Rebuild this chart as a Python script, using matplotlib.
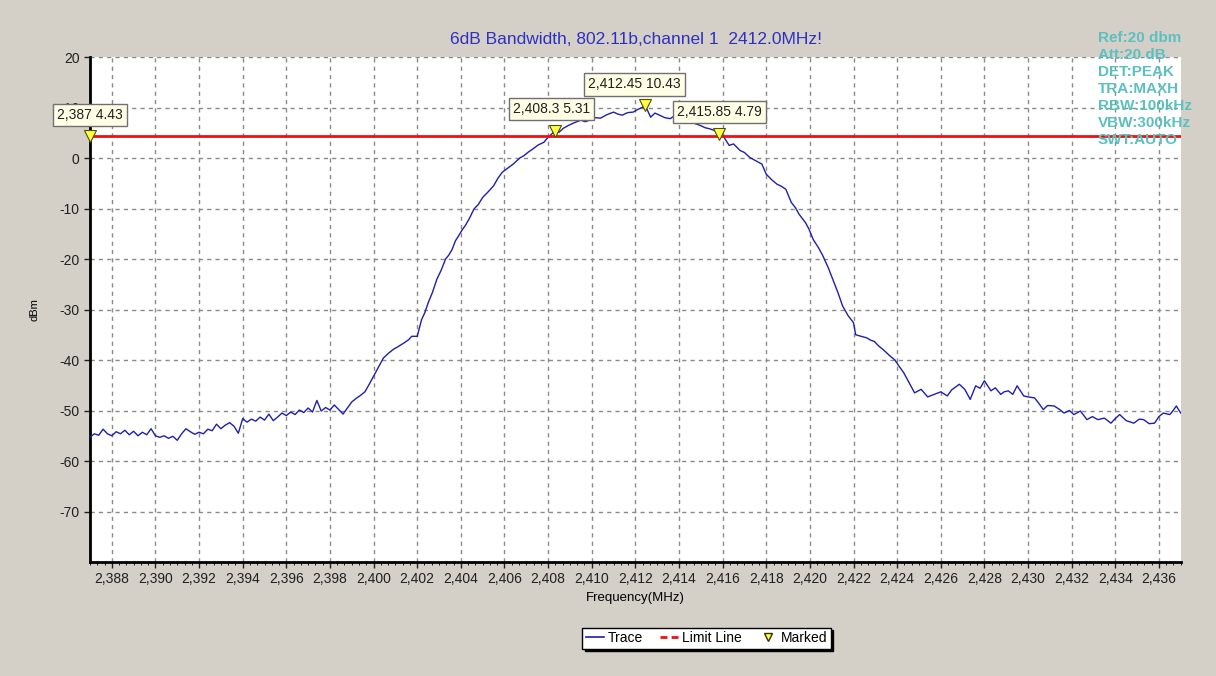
import matplotlib
matplotlib.use("Agg")
import matplotlib.pyplot as plt
from matplotlib.lines import Line2D
from matplotlib.ticker import MultipleLocator, FuncFormatter

plt.rcParams['font.family'] = ['Liberation Sans', 'DejaVu Sans']
plt.rcParams['axes.unicode_minus'] = False

# trace (MHz, dBm)
trace_freq = [
    2387.0, 2387.2, 2387.4, 2387.6, 2387.8, 2388.0, 2388.2, 2388.4, 2388.6, 2388.8,
    2389.0, 2389.2, 2389.4, 2389.6, 2389.8, 2390.0, 2390.2, 2390.4, 2390.6, 2390.8,
    2391.0, 2391.2, 2391.4, 2391.6, 2391.8, 2392.0, 2392.2, 2392.4, 2392.6, 2392.8,
    2393.0, 2393.2, 2393.4, 2393.6, 2393.8, 2394.0, 2394.2, 2394.4, 2394.6, 2394.8,
    2395.0, 2395.2, 2395.4, 2395.6, 2395.8, 2396.0, 2396.2, 2396.4, 2396.6, 2396.8,
    2397.0, 2397.2, 2397.4, 2397.6, 2397.8, 2398.0, 2398.2, 2398.4, 2398.6, 2398.8,
    2399.0, 2399.2, 2399.4, 2399.6, 2399.8, 2400.0, 2400.2, 2400.45, 2400.7, 2400.9,
    2401.1, 2401.4, 2401.6, 2401.75, 2402.0, 2402.2, 2402.35, 2402.5, 2402.7, 2402.9,
    2403.1, 2403.3, 2403.45, 2403.6, 2403.75, 2403.9, 2404.05, 2404.2, 2404.4, 2404.6,
    2404.8, 2405.0, 2405.25, 2405.5, 2405.7, 2405.9, 2406.15, 2406.4, 2406.7, 2406.9,
    2407.1, 2407.3, 2407.55, 2407.8, 2408.0, 2408.3, 2408.5, 2408.7, 2408.95, 2409.2,
    2409.5, 2409.7, 2409.9, 2410.15, 2410.4, 2410.7, 2411.0, 2411.2, 2411.4, 2411.65,
    2411.9, 2412.1, 2412.3, 2412.45, 2412.7, 2412.9, 2413.1, 2413.35, 2413.6, 2413.8,
    2414.0, 2414.25, 2414.5, 2414.75, 2414.95, 2415.2, 2415.4, 2415.6, 2415.85, 2416.05,
    2416.3, 2416.5, 2416.8, 2417.0, 2417.25, 2417.5, 2417.8, 2418.0, 2418.25, 2418.5,
    2418.7, 2418.9, 2419.15, 2419.35, 2419.5, 2419.8, 2419.95, 2420.15, 2420.4, 2420.6,
    2420.85, 2421.05, 2421.3, 2421.5, 2421.75, 2422.0, 2422.1, 2422.35, 2422.6, 2422.8,
    2422.95, 2423.15, 2423.35, 2423.55, 2423.7, 2423.9, 2424.1, 2424.3, 2424.5, 2424.8,
    2425.1, 2425.4, 2425.7, 2426.0, 2426.3, 2426.5, 2426.85, 2427.1, 2427.35, 2427.6,
    2427.8, 2428.0, 2428.3, 2428.5, 2428.75, 2428.9, 2429.1, 2429.3, 2429.5, 2429.8,
    2430.0, 2430.3, 2430.5, 2430.7, 2430.9, 2431.2, 2431.45, 2431.65, 2431.9, 2432.1,
    2432.4, 2432.7, 2432.95, 2433.2, 2433.5, 2433.8, 2434.0, 2434.2, 2434.5, 2434.85,
    2435.1, 2435.3, 2435.55, 2435.8, 2436.0, 2436.2, 2436.5, 2436.65, 2436.8, 2437.0,
]
trace_dbm = [
    -55.3, -54.6, -54.9, -53.7, -54.6, -55.0, -54.2, -54.6, -53.9, -54.8,
    -54.1, -55.0, -54.3, -54.8, -53.6, -55.0, -55.3, -55.0, -55.5, -55.1,
    -55.9, -54.6, -53.6, -54.2, -54.7, -54.3, -54.6, -53.7, -54.0, -52.7,
    -53.6, -52.9, -52.4, -53.1, -54.5, -51.6, -52.3, -51.7, -52.1, -51.3,
    -51.9, -50.7, -52.0, -51.3, -50.5, -51.0, -50.3, -50.8, -49.9, -50.4,
    -49.5, -50.3, -48.0, -50.1, -49.4, -49.9, -48.9, -49.8, -50.7, -49.5,
    -48.3, -47.6, -47.0, -46.3, -44.8, -43.2, -41.6, -39.6, -38.6, -37.9,
    -37.4, -36.6, -36.0, -35.3, -35.3, -32.0, -30.6, -28.7, -26.6, -24.0,
    -22.2, -20.0, -19.2, -18.1, -16.4, -15.4, -14.3, -13.4, -11.9, -10.1,
    -9.2, -7.8, -6.7, -5.5, -4.0, -2.8, -2.0, -1.2, 0.0, 0.5,
    1.2, 1.8, 2.6, 3.1, 4.1, 5.31, 5.1, 5.9, 6.5, 7.0,
    7.5, 7.2, 7.5, 8.0, 7.9, 8.6, 9.1, 8.7, 8.5, 9.0,
    9.1, 9.6, 10.0, 10.43, 8.1, 8.9, 8.5, 8.0, 7.8, 8.4,
    8.1, 7.4, 7.1, 6.8, 6.5, 6.0, 5.8, 5.5, 4.79, 4.2,
    2.5, 2.8, 1.5, 1.1, 0.1, -0.5, -1.2, -3.2, -4.3, -5.2,
    -5.6, -6.2, -8.8, -9.9, -11.1, -12.8, -14.0, -16.1, -17.8, -19.4,
    -21.8, -24.0, -26.8, -29.3, -31.2, -32.6, -35.0, -35.3, -35.6, -36.1,
    -36.3, -37.2, -37.9, -38.7, -39.3, -40.0, -41.3, -42.5, -44.1, -46.5,
    -45.8, -47.3, -46.8, -46.3, -47.1, -45.9, -44.8, -45.8, -47.8, -45.1,
    -45.6, -44.1, -46.1, -45.5, -46.8, -46.3, -46.1, -46.8, -45.1, -47.1,
    -47.3, -47.5, -48.6, -49.8, -49.0, -49.1, -49.8, -50.5, -50.0, -50.8,
    -50.1, -51.8, -51.2, -51.8, -51.5, -52.5, -51.6, -50.8, -52.0, -52.5,
    -51.7, -51.8, -52.6, -52.5, -51.2, -50.5, -50.8, -50.0, -49.1, -50.5,
]

limit_dbm = 4.43

marker_freq = [2387.0, 2408.3, 2412.45, 2415.85]
marker_dbm = [4.43, 5.31, 10.43, 4.79]
marker_labels = ["2,387 4.43", "2,408.3 5.31", "2,412.45 10.43", "2,415.85 4.79"]
label_offsets = [(0, 21), (-3, 22), (-11, 21), (0, 22)]

settings = ["Ref:20 dbm", "Att:20 dB", "DET:PEAK", "TRA:MAXH",
            "RBW:100kHz", "VBW:300kHz", "SWT:AUTO"]

y_ticks = [20, 10, 0, -10, -20, -30, -40, -50, -60, -70]

bg = '#d4d0c8'
fig = plt.figure(figsize=(12.16, 6.76), dpi=100, facecolor=bg)
ax = fig.add_axes([0.074, 0.1686, 0.897, 0.747])
ax.set_facecolor('white')

ax.plot(trace_freq, trace_dbm, color='#1f1fab', lw=1.0, zorder=3)
ax.axhline(limit_dbm, color='#ee1111', lw=2, zorder=4)
ax.plot(marker_freq, marker_dbm, 'v', ms=8, mfc='#ffff44', mec='#505000',
        mew=0.8, zorder=5, clip_on=False)

for f, v, txt, off in zip(marker_freq, marker_dbm, marker_labels, label_offsets):
    ax.annotate(txt, (f, v), xytext=off, textcoords='offset pixels',
                ha='center', va='center', fontsize=10, color='#202020',
                annotation_clip=False, zorder=6,
                bbox=dict(boxstyle='square,pad=0.3', fc='#ffffe6', ec='#707070', lw=1))

ax.set_xlim(2387, 2437)
ax.set_ylim(-80, 20)
ax.xaxis.set_major_locator(MultipleLocator(2))
ax.xaxis.set_minor_locator(MultipleLocator(1 / 3))
ax.xaxis.set_major_formatter(FuncFormatter(lambda v, p: f"{v:,.0f}"))
ax.set_yticks(y_ticks)
ax.tick_params(axis='both', labelsize=10, colors='#202020', length=4, width=1)
ax.tick_params(axis='x', which='minor', length=2.5)
ax.grid(True, which='major', color='#8a8a8a', ls=(0, (3, 3)), lw=1)

for side in ['top', 'right']:
    ax.spines[side].set_visible(False)
for side in ['left', 'bottom']:
    ax.spines[side].set_linewidth(2)
    ax.spines[side].set_color('black')

ax.set_xlabel('Frequency(MHz)', fontsize=9.5, labelpad=4)
ax.set_ylabel('dBm', fontsize=8, labelpad=14)
fig.text(0.523, 0.941, '6dB Bandwidth, 802.11b,channel 1  2412.0MHz!',
         ha='center', va='center', fontsize=12.5, color='#3030c0')

for i, s in enumerate(settings):
    fig.text(0.903, 0.944 - i * 0.0252, s, ha='left', va='center',
             fontsize=11, fontweight='bold', color='#5cc0c0', zorder=10)

handles = [
    Line2D([], [], color='#1f1fab', lw=1.2),
    Line2D([], [], color='#ee1111', lw=2, ls=(0, (2.5, 1.5))),
    Line2D([], [], ls='none', marker='v', ms=6, mfc='#ffff44', mec='#303000'),
]
leg = fig.legend(handles, ['Trace', 'Limit Line', 'Marked'], loc='center',
                 bbox_to_anchor=(0.581, 0.056), ncol=3, fontsize=10,
                 frameon=True, fancybox=False, shadow={'color': 'black', 'alpha': 1},
                 edgecolor='black', framealpha=1, handlelength=1.3,
                 handletextpad=0.3, columnspacing=1.2, borderpad=0.25)
leg.get_frame().set_linewidth(1)

fig.savefig('out.png', dpi=100, facecolor=bg)
